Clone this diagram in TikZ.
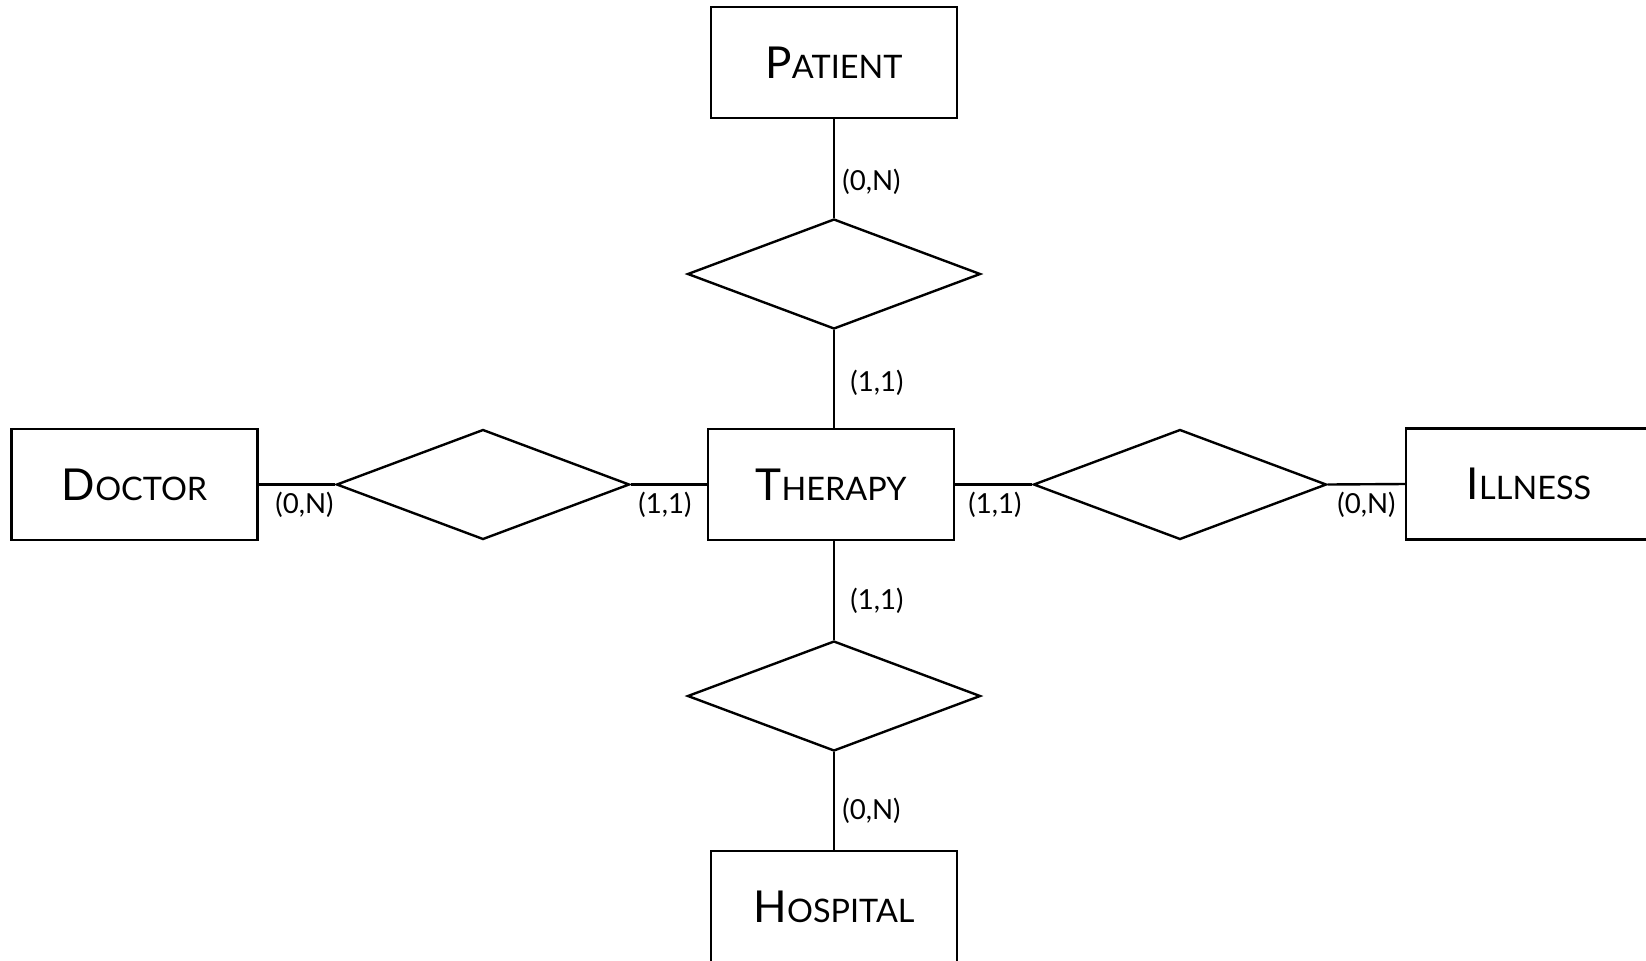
\documentclass[tikz,border=0pt]{standalone}
\usepackage{fontspec}
\setmainfont{Lato}
\usetikzlibrary{shapes.geometric}
\newcommand{\myinit}[1]{{\fontsize{22}{26}\selectfont #1}}
\newcommand{\myscl}[1]{{\fontsize{16.2}{19}\selectfont #1}}
\tikzset{
  entity/.style={draw, line width=1.2pt, minimum width=123pt, minimum height=55.5pt, inner sep=0pt},
  rel/.style={draw, diamond, line width=1.2pt, minimum width=146.5pt, minimum height=55pt, inner sep=0pt},
  card/.style={font=\fontsize{13.8}{16}\selectfont, inner sep=0pt},
  conn/.style={line width=1.2pt}
}
\begin{document}
\begin{tikzpicture}[x=0.5pt,y=-0.5pt]
\useasboundingbox (0,0) rectangle (1646,960);
\node[entity] (patient) at (834,62.5) {\myinit{P}\myscl{ATIENT}};
\node[entity] (doctor) at (134.5,484.5) {\myinit{D}\myscl{OCTOR}};
\node[entity] (therapy) at (831,484.5) {\myinit{T}\myscl{HERAPY}};
\node[entity] (illness) at (1529,484) {\myinit{I}\myscl{LLNESS}};
\node[entity] (hospital) at (834,906.5) {\myinit{H}\myscl{OSPITAL}};
\node[rel] (rtop) at (834,274) {};
\node[rel] (rbot) at (834,696) {};
\node[rel] (rleft) at (483,484.5) {};
\node[rel] (rright) at (1180,484.5) {};
\draw[conn] (patient.south) -- (rtop.north);
\draw[conn] (rtop.south) -- (rtop.south |- therapy.north);
\draw[conn] (rbot.north |- therapy.south) -- (rbot.north);
\draw[conn] (rbot.south) -- (hospital.north);
\draw[conn] (doctor.east) -- (rleft.west);
\draw[conn] (rleft.east) -- (therapy.west);
\draw[conn] (therapy.east) -- (rright.west);
\draw[conn] (rright.east) -- (illness.west);
\node[card, anchor=west] (c1) at (842,182) {(0,N)};
\node[card, anchor=west] (c2) at (850,383) {(1,1)};
\node[card, anchor=west] (c3) at (275,505) {(0,N)};
\node[card, anchor=west] (c4) at (638,505) {(1,1)};
\node[card, anchor=west] (c5) at (968,505) {(1,1)};
\node[card, anchor=west] (c6) at (1337,505) {(0,N)};
\node[card, anchor=west] (c7) at (850,601) {(1,1)};
\node[card, anchor=west] (c8) at (842,811) {(0,N)};
\end{tikzpicture}
\end{document}
